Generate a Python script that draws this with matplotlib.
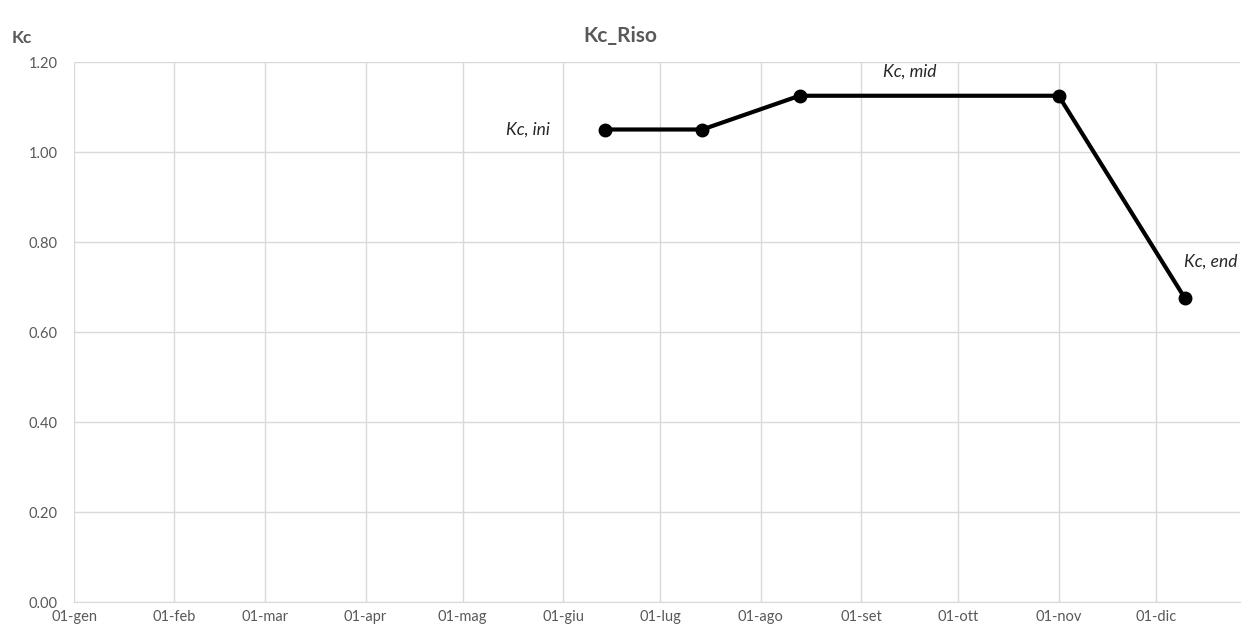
import matplotlib
matplotlib.use("Agg")
import matplotlib.pyplot as plt
import datetime as dt

# Data
dates = ["2019-06-14", "2019-07-14", "2019-08-13", "2019-11-01", "2019-12-10"]
kc_values = [1.05, 1.05, 1.125, 1.125, 0.675]
month_labels = ["01-gen", "01-feb", "01-mar", "01-apr", "01-mag", "01-giu",
                "01-lug", "01-ago", "01-set", "01-ott", "01-nov", "01-dic"]
y_ticks = [0.0, 0.2, 0.4, 0.6, 0.8, 1.0, 1.2]
annotations = [("Kc, ini", "2019-05-21", 1.05),
               ("Kc, mid", "2019-09-16", 1.178),
               ("Kc, end", "2019-12-18", 0.757)]

plt.rcParams['font.family'] = ['Lato', 'DejaVu Sans']

fig = plt.figure(figsize=(12.42, 6.28), dpi=100)
ax = fig.add_axes([74/1242, 26/628, (1240-74)/1242, (602-62)/628])

xd = [dt.datetime.strptime(d, "%Y-%m-%d") for d in dates]
ax.plot(xd, kc_values, color="black", lw=3, marker="o", ms=9, zorder=3,
        solid_capstyle="round")

tick_dates = [dt.datetime(2019, m, 1) for m in range(1, 13)]
ax.set_xticks(tick_dates)
ax.set_xticklabels(month_labels)
ax.set_xlim(dt.datetime(2019, 1, 1), dt.datetime(2019, 12, 27))
ax.set_ylim(0, 1.2)
ax.set_yticks(y_ticks)
ax.set_yticklabels([f"{v:.2f}" for v in y_ticks])

ax.grid(True, color="#d9d9d9", lw=1)
ax.set_axisbelow(True)
for s in ["top", "right", "left"]:
    ax.spines[s].set_visible(False)
ax.spines["bottom"].set_color("#d9d9d9")
ax.tick_params(axis="both", length=0, colors="#595959", labelsize=10.5)
ax.tick_params(axis="x", pad=6)
ax.tick_params(axis="y", pad=12)

for txt, d, y in annotations:
    ax.text(dt.datetime.strptime(d, "%Y-%m-%d"), y, txt, style="italic",
            fontsize=12.5, color="#262626", ha="center", va="center")

fig.text(620/1242, 1 - 36/628, "Kc_Riso", ha="center", va="center",
         fontsize=15, fontweight="bold", color="#595959")
fig.text(22/1242, 1 - 38/628, "Kc", ha="center", va="center",
         fontsize=12.5, fontweight="bold", color="#595959")

fig.savefig("out.png", dpi=100)
